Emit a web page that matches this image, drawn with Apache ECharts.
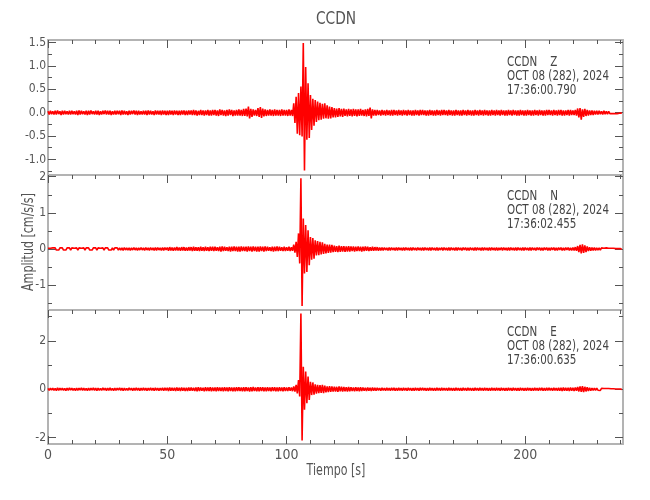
<!DOCTYPE html>
<html><head><meta charset="utf-8">
<script src="https://cdn.jsdelivr.net/npm/echarts@6/dist/echarts.min.js"></script>
<style>html,body{margin:0;padding:0;background:#fff}#c{width:650px;height:500px}</style>
</head><body><div id="c"></div>
<script>
// Per-second envelope (max / min within each 1 s bin), t = 0..240 s
const Z_HI = [.03,.04,.03,.04,.05,.03,.04,.04,.03,.04,
 .04,.03,.04,.05,.04,.03,.04,.04,.05,.03,
 .04,.04,.03,.04,.05,.04,.04,.03,.04,.04,
 .04,.05,.04,.03,.04,.04,.05,.04,.04,.03,
 .04,.04,.05,.04,.03,.05,.04,.04,.05,.04,
 .04,.05,.04,.05,.04,.04,.05,.05,.04,.05,
 .05,.06,.05,.04,.06,.05,.05,.06,.05,.06,
 .06,.05,.07,.06,.05,.06,.07,.06,.05,.06,
 .07,.06,.08,.09,.13,.08,.07,.06,.10,.12,
 .09,.07,.06,.07,.06,.07,.06,.06,.07,.06,
 .06,.07,.06,.20,.34,.42,.56,1.49,.98,.63,
 .38,.30,.27,.24,.21,.19,.20,.16,.13,.12,
 .10,.09,.10,.08,.09,.07,.08,.07,.08,.07,
 .07,.08,.06,.07,.08,.11,.07,.06,.06,.05,
 .06,.05,.06,.05,.06,.06,.05,.06,.05,.06,
 .05,.06,.05,.05,.06,.05,.06,.06,.05,.05,
 .06,.05,.05,.06,.05,.06,.06,.05,.06,.05,
 .05,.06,.05,.05,.06,.05,.06,.05,.05,.06,
 .05,.06,.05,.06,.05,.05,.06,.05,.06,.05,
 .06,.05,.05,.06,.05,.06,.05,.05,.06,.05,
 .05,.06,.05,.05,.06,.05,.06,.05,.05,.06,
 .06,.05,.06,.05,.06,.06,.05,.05,.06,.06,
 .05,.06,.09,.10,.07,.08,.06,.05,.05,.04,
 .04,.04,.03,.04,.03,.03,.02,.02,.02,.01,
 .01];
const Z_LO = [-.04,-.03,-.04,-.04,-.03,-.05,-.04,-.03,-.04,-.04,
 -.03,-.04,-.05,-.04,-.03,-.04,-.05,-.04,-.03,-.04,
 -.04,-.05,-.04,-.03,-.04,-.04,-.05,-.04,-.04,-.03,
 -.05,-.04,-.04,-.05,-.04,-.03,-.04,-.05,-.04,-.04,
 -.04,-.05,-.04,-.04,-.05,-.04,-.04,-.05,-.04,-.05,
 -.05,-.04,-.05,-.04,-.05,-.05,-.04,-.05,-.05,-.04,
 -.05,-.05,-.06,-.05,-.05,-.06,-.05,-.06,-.06,-.05,
 -.06,-.07,-.05,-.06,-.07,-.06,-.05,-.07,-.06,-.06,
 -.06,-.07,-.07,-.08,-.12,-.09,-.06,-.07,-.09,-.11,
 -.08,-.07,-.06,-.06,-.07,-.06,-.06,-.07,-.06,-.06,
 -.07,-.06,-.07,-.22,-.45,-.48,-.51,-1.24,-.58,-.54,
 -.37,-.28,-.20,-.16,-.15,-.13,-.12,-.13,-.12,-.10,
 -.10,-.09,-.08,-.09,-.07,-.08,-.07,-.08,-.07,-.08,
 -.07,-.06,-.07,-.08,-.07,-.12,-.06,-.06,-.05,-.06,
 -.05,-.06,-.05,-.06,-.06,-.05,-.06,-.05,-.06,-.05,
 -.06,-.05,-.06,-.06,-.05,-.06,-.05,-.05,-.06,-.06,
 -.05,-.06,-.06,-.05,-.06,-.05,-.05,-.06,-.05,-.06,
 -.06,-.05,-.06,-.06,-.05,-.06,-.05,-.06,-.06,-.05,
 -.06,-.05,-.06,-.05,-.06,-.06,-.05,-.06,-.05,-.06,
 -.05,-.06,-.06,-.05,-.06,-.05,-.06,-.06,-.05,-.06,
 -.06,-.05,-.06,-.06,-.05,-.06,-.05,-.06,-.06,-.05,
 -.05,-.06,-.05,-.06,-.05,-.06,-.06,-.05,-.06,-.05,
 -.05,-.06,-.10,-.15,-.09,-.07,-.06,-.05,-.05,-.04,
 -.04,-.03,-.04,-.03,-.03,-.02,-.02,-.02,-.02,-.01,
 -.01];

const N_HI = [.02,.02,.03,.03,.02,.03,.03,.02,.03,.03,
 .03,.02,.03,.03,.02,.03,.03,.03,.02,.03,
 .03,.03,.02,.03,.03,.03,.02,.03,.03,.03,
 .03,.03,.04,.03,.03,.03,.04,.03,.03,.04,
 .03,.04,.03,.04,.03,.04,.04,.03,.04,.04,
 .04,.05,.04,.04,.05,.04,.05,.05,.04,.05,
 .05,.06,.05,.05,.06,.05,.06,.05,.06,.06,
 .06,.05,.06,.07,.06,.05,.06,.06,.07,.06,
 .06,.07,.06,.06,.07,.06,.07,.06,.06,.07,
 .06,.07,.06,.05,.06,.06,.07,.06,.05,.06,
 .05,.06,.05,.12,.20,.43,1.96,.84,.66,.52,
 .33,.30,.24,.22,.20,.18,.14,.12,.12,.11,
 .09,.08,.09,.08,.08,.07,.08,.07,.07,.06,
 .07,.06,.06,.07,.06,.05,.06,.05,.05,.04,
 .04,.04,.03,.04,.04,.03,.04,.04,.03,.04,
 .04,.03,.04,.04,.03,.04,.03,.04,.04,.03,
 .04,.04,.03,.04,.03,.04,.04,.03,.04,.04,
 .03,.04,.04,.03,.04,.04,.03,.04,.03,.04,
 .04,.03,.04,.04,.03,.04,.04,.03,.04,.03,
 .04,.04,.03,.04,.04,.03,.04,.04,.03,.04,
 .04,.03,.04,.04,.03,.04,.04,.03,.04,.04,
 .03,.04,.04,.03,.04,.04,.03,.04,.04,.03,
 .04,.05,.08,.11,.13,.10,.07,.05,.04,.04,
 .03,.03,.03,.02,.03,.02,.02,.02,.01,.01,
 .01];
const N_LO = [-.02,-.03,-.02,-.03,-.03,-.02,-.03,-.03,-.02,-.03,
 -.02,-.03,-.03,-.02,-.03,-.03,-.02,-.03,-.03,-.02,
 -.03,-.02,-.03,-.03,-.02,-.03,-.03,-.03,-.02,-.03,
 -.03,-.04,-.03,-.03,-.04,-.03,-.03,-.04,-.03,-.03,
 -.04,-.03,-.04,-.03,-.04,-.04,-.03,-.04,-.04,-.03,
 -.05,-.04,-.05,-.04,-.04,-.05,-.04,-.05,-.05,-.04,
 -.06,-.05,-.05,-.06,-.05,-.06,-.05,-.06,-.05,-.06,
 -.05,-.06,-.07,-.06,-.05,-.06,-.07,-.06,-.06,-.07,
 -.07,-.06,-.06,-.07,-.06,-.07,-.06,-.07,-.07,-.06,
 -.07,-.06,-.05,-.06,-.07,-.06,-.06,-.05,-.06,-.06,
 -.05,-.06,-.05,-.10,-.22,-.40,-1.58,-.68,-.64,-.45,
 -.30,-.27,-.18,-.17,-.15,-.14,-.12,-.11,-.10,-.09,
 -.08,-.09,-.08,-.07,-.08,-.07,-.07,-.06,-.07,-.06,
 -.06,-.07,-.06,-.05,-.06,-.05,-.05,-.04,-.05,-.04,
 -.04,-.03,-.04,-.04,-.03,-.04,-.04,-.03,-.04,-.04,
 -.03,-.04,-.04,-.03,-.04,-.03,-.04,-.04,-.03,-.04,
 -.04,-.03,-.04,-.04,-.03,-.04,-.03,-.04,-.04,-.03,
 -.04,-.04,-.03,-.04,-.03,-.04,-.04,-.03,-.04,-.04,
 -.03,-.04,-.04,-.03,-.04,-.04,-.03,-.04,-.04,-.03,
 -.04,-.03,-.04,-.04,-.03,-.04,-.04,-.03,-.04,-.04,
 -.03,-.04,-.04,-.03,-.04,-.03,-.04,-.04,-.03,-.04,
 -.04,-.03,-.04,-.04,-.03,-.04,-.04,-.03,-.04,-.04,
 -.04,-.05,-.09,-.12,-.11,-.09,-.06,-.05,-.04,-.04,
 -.03,-.03,-.02,-.03,-.02,-.02,-.02,-.01,-.01,-.01,
 -.01];

const E_HI = [.04,.05,.05,.04,.06,.05,.05,.04,.05,.06,
 .05,.04,.05,.05,.06,.05,.04,.05,.05,.06,
 .05,.05,.04,.06,.05,.05,.06,.04,.05,.05,
 .06,.05,.05,.04,.06,.05,.05,.06,.05,.05,
 .06,.05,.05,.06,.05,.06,.05,.05,.06,.06,
 .06,.07,.06,.06,.07,.06,.07,.06,.06,.07,
 .07,.06,.07,.08,.07,.06,.08,.07,.08,.07,
 .07,.08,.07,.07,.08,.07,.08,.07,.07,.08,
 .08,.07,.08,.08,.07,.08,.09,.07,.08,.08,
 .08,.07,.08,.07,.08,.08,.07,.08,.07,.08,
 .07,.08,.07,.12,.18,.38,3.13,.93,.73,.52,
 .31,.28,.20,.18,.17,.18,.15,.12,.13,.12,
 .11,.10,.12,.10,.09,.08,.09,.08,.07,.08,
 .07,.08,.07,.06,.07,.06,.07,.06,.06,.05,
 .06,.05,.06,.05,.06,.06,.05,.06,.05,.06,
 .05,.06,.05,.05,.06,.05,.06,.06,.05,.05,
 .06,.05,.05,.06,.05,.06,.05,.05,.06,.05,
 .05,.06,.05,.05,.06,.05,.06,.05,.05,.06,
 .05,.06,.05,.06,.05,.05,.06,.05,.06,.05,
 .06,.05,.05,.06,.05,.06,.05,.05,.06,.05,
 .05,.06,.05,.05,.06,.05,.06,.06,.05,.06,
 .06,.05,.06,.05,.06,.06,.07,.06,.06,.07,
 .06,.07,.09,.12,.13,.10,.08,.06,.05,.05,
 .05,.04,.04,.03,.03,.03,.02,.02,.01,.01,
 .01];
const E_LO = [-.05,-.04,-.05,-.06,-.05,-.04,-.05,-.06,-.05,-.04,
 -.05,-.06,-.05,-.04,-.05,-.05,-.06,-.05,-.04,-.05,
 -.06,-.05,-.05,-.04,-.06,-.05,-.05,-.06,-.05,-.04,
 -.05,-.06,-.05,-.05,-.04,-.06,-.05,-.05,-.06,-.05,
 -.05,-.06,-.05,-.05,-.06,-.05,-.06,-.05,-.06,-.05,
 -.07,-.06,-.06,-.07,-.06,-.07,-.06,-.07,-.07,-.06,
 -.06,-.07,-.08,-.07,-.06,-.08,-.07,-.07,-.08,-.07,
 -.08,-.07,-.07,-.08,-.07,-.08,-.07,-.08,-.08,-.07,
 -.07,-.08,-.08,-.07,-.09,-.08,-.07,-.08,-.08,-.07,
 -.08,-.08,-.07,-.08,-.07,-.08,-.08,-.07,-.08,-.07,
 -.07,-.06,-.08,-.10,-.17,-.30,-2.12,-.85,-.58,-.44,
 -.24,-.22,-.18,-.16,-.15,-.16,-.13,-.12,-.11,-.10,
 -.10,-.11,-.09,-.10,-.08,-.09,-.08,-.07,-.08,-.07,
 -.08,-.07,-.06,-.07,-.06,-.07,-.06,-.06,-.05,-.06,
 -.05,-.06,-.05,-.06,-.05,-.06,-.06,-.05,-.06,-.05,
 -.06,-.05,-.06,-.06,-.05,-.06,-.05,-.05,-.06,-.06,
 -.05,-.06,-.06,-.05,-.06,-.05,-.05,-.06,-.05,-.06,
 -.06,-.05,-.06,-.06,-.05,-.06,-.05,-.06,-.06,-.05,
 -.06,-.05,-.06,-.05,-.06,-.06,-.05,-.06,-.05,-.06,
 -.05,-.06,-.06,-.05,-.06,-.05,-.06,-.06,-.05,-.06,
 -.06,-.05,-.06,-.06,-.05,-.06,-.05,-.06,-.06,-.05,
 -.05,-.06,-.05,-.06,-.06,-.07,-.06,-.06,-.07,-.06,
 -.07,-.06,-.09,-.11,-.12,-.09,-.07,-.06,-.05,-.05,
 -.04,-.05,-.04,-.03,-.03,-.02,-.02,-.02,-.01,-.01,
 -.01];

const BIN_SECONDS = 1;
const X_RANGE = [0, 241];
const X_TICKS = [0, 50, 100, 150, 200];
const X_MINOR = [10,20,30,40,60,70,80,90,110,120,130,140,160,170,180,190,210,220,230,240];

const Y_RANGES = [[-1.334, 1.557], [-1.69, 2.047], [-2.26, 3.27]];
const Y_TICKS = [[-1, -0.5, 0, 0.5, 1, 1.5], [-1, 0, 1, 2], [-2, 0, 2]];
const Y_MINOR = [[-1.25, -0.75, -0.25, 0.25, 0.75, 1.25], [-1.5, -0.5, 0.5, 1.5], [-1, 1, 3]];
const Y_LABEL_FMT = [v => v.toFixed(1), v => String(v), v => String(v)];

const TITLE = 'CCDN';
const X_NAME = 'Tiempo [s]';
const Y_NAME = 'Amplitud [cm/s/s]';
const STATION_INFO = [
  ['CCDN    Z', 'OCT 08 (282), 2024', '17:36:00.790'],
  ['CCDN    N', 'OCT 08 (282), 2024', '17:36:02.455'],
  ['CCDN    E', 'OCT 08 (282), 2024', '17:36:00.635']
];

const TRACES = [[Z_HI, Z_LO], [N_HI, N_LO], [E_HI, E_LO]];

const FONT = "'Liberation Sans Narrow','DejaVu Sans Condensed','Arial Narrow',sans-serif";
const AXIS_COLOR = '#b3b3b3';
const TICK_COLOR = '#555';
const LABEL_COLOR = '#555';
const NARROW = 0.82;

const grids = [
  {left: 48, top: 40, width: 575, height: 135},
  {left: 48, top: 175, width: 575, height: 135},
  {left: 48, top: 310, width: 575, height: 134}
];

const xAxes = [], yAxes = [], series = [];
function tick(values, len, show) {
  return {show: show, inside: true, length: len, customValues: values, lineStyle: {color: TICK_COLOR, width: 1}};
}
const line = show => ({show: show, onZero: false, lineStyle: {color: AXIS_COLOR, width: 2}});

for (let p = 0; p < 3; p++) {
  const last = p === 2;
  const xBase = {type: 'value', gridIndex: p, min: X_RANGE[0], max: X_RANGE[1], splitLine: {show: false}};
  xAxes.push(Object.assign({}, xBase, {
    position: 'bottom', axisLine: line(true), axisTick: tick(X_TICKS, 8, last),
    axisLabel: {show: last, customValues: X_TICKS, color: LABEL_COLOR, fontFamily: FONT, fontSize: 14, margin: 4}
  }));
  xAxes.push(Object.assign({}, xBase, {
    position: 'bottom', axisLine: line(false), axisTick: tick(X_MINOR, 4, last), axisLabel: {show: false}
  }));
  xAxes.push(Object.assign({}, xBase, {
    position: 'top', axisLine: line(true), axisTick: tick(X_TICKS, 8, true), axisLabel: {show: false}
  }));
  xAxes.push(Object.assign({}, xBase, {
    position: 'top', axisLine: line(false), axisTick: tick(X_MINOR, 4, true), axisLabel: {show: false}
  }));
  const yBase = {type: 'value', gridIndex: p, min: Y_RANGES[p][0], max: Y_RANGES[p][1], splitLine: {show: false}};
  yAxes.push(Object.assign({}, yBase, {
    position: 'left', axisLine: line(true), axisTick: tick(Y_TICKS[p], 8, true),
    axisLabel: {show: true, customValues: Y_TICKS[p], formatter: Y_LABEL_FMT[p], color: LABEL_COLOR, fontFamily: FONT, fontSize: 12, margin: 2}
  }));
  yAxes.push(Object.assign({}, yBase, {
    position: 'left', axisLine: line(false), axisTick: tick(Y_MINOR[p], 4, true), axisLabel: {show: false}
  }));
  yAxes.push(Object.assign({}, yBase, {
    position: 'right', axisLine: line(true), axisTick: tick(Y_TICKS[p], 8, true), axisLabel: {show: false}
  }));
  yAxes.push(Object.assign({}, yBase, {
    position: 'right', axisLine: line(false), axisTick: tick(Y_MINOR[p], 4, true), axisLabel: {show: false}
  }));

  const [hi, lo] = TRACES[p];
  const data = [];
  for (let i = 0; i < hi.length; i++) {
    data.push([i * BIN_SECONDS, hi[i]]);
    data.push([i * BIN_SECONDS + BIN_SECONDS / 2, lo[i]]);
  }
  series.push({
    type: 'line', xAxisIndex: p * 4, yAxisIndex: p * 4, data: data,
    showSymbol: false, symbol: 'none', sampling: null, animation: false, silent: true,
    lineStyle: {color: '#ff0000', width: 1.6}, z: 1
  });
}

const graphic = [
  {type: 'text', x: 336, y: 20, scaleX: 0.9, style: {text: TITLE, fontFamily: FONT, fontSize: 17, fill: '#555', align: 'center', verticalAlign: 'middle'}},
  {type: 'text', x: 336, y: 471, scaleX: NARROW, style: {text: X_NAME, fontFamily: FONT, fontSize: 15, fill: '#555', align: 'center', verticalAlign: 'middle'}},
  {type: 'text', x: 29, y: 242, rotation: Math.PI / 2, scaleX: NARROW, style: {text: Y_NAME, fontFamily: FONT, fontSize: 15, fill: '#555', align: 'center', verticalAlign: 'middle'}}
];
const infoTop = [62, 196, 332];
for (let p = 0; p < 3; p++) {
  STATION_INFO[p].forEach((s, k) => {
    graphic.push({type: 'text', x: 507, y: infoTop[p] + k * 14.2, scaleX: NARROW,
      style: {text: s, fontFamily: FONT, fontSize: 14, fill: '#444', align: 'left', verticalAlign: 'middle'}});
  });
}

const chart = echarts.init(document.getElementById('c'), null, {renderer: 'canvas'});
chart.setOption({
  backgroundColor: '#fff',
  animation: false,
  grid: grids,
  xAxis: xAxes,
  yAxis: yAxes,
  series: series,
  graphic: graphic
});
</script></body></html>
